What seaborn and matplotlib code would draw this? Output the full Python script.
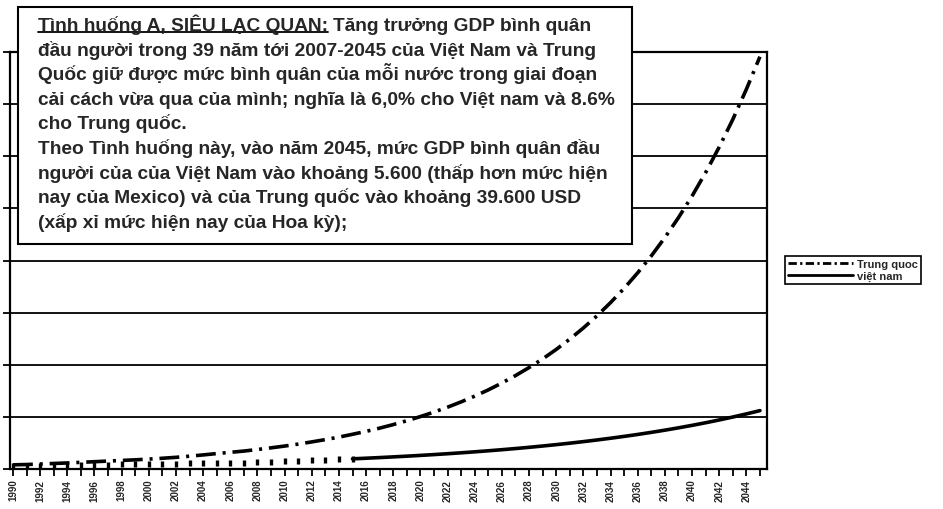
import numpy as np
import pandas as pd
import seaborn as sns
import matplotlib.pyplot as plt
from matplotlib.patches import Rectangle
from matplotlib.lines import Line2D

# years shown on the chart
years = list(range(1990, 2046))

# GDP per capita (USD)
trung_quoc = [400, 430, 480, 530, 580, 640, 700, 760, 820, 880,
              950, 1030, 1120, 1230, 1350, 1480, 1600, 1720, 1870, 2030,
              2200, 2390, 2600, 2820, 3060, 3330, 3610, 3920, 4260, 4630,
              5030, 5460, 5930, 6440, 6990, 7590, 8250, 8960, 9730, 10560,
              11470, 12460, 13530, 14690, 15960, 17330, 18820, 20440, 22200, 24110,
              26180, 28430, 30880, 33530, 36420, 39550]
viet_nam = [280, 290, 310, 330, 350, 380, 400, 420, 440, 450,
            470, 490, 510, 540, 560, 580, 600, 612, 649, 688,
            729, 773, 819, 868, 920, 975, 1034, 1096, 1162, 1231,
            1305, 1383, 1466, 1554, 1648, 1747, 1851, 1962, 2080, 2205,
            2337, 2477, 2626, 2784, 2951, 3128, 3315, 3514, 3725, 3949,
            4186, 4437, 4703, 4985, 5284, 5600]

tick_years = list(range(1990, 2045, 2))
y_grid = list(range(0, 40001, 5000))
legend_labels = ["Trung quoc", "việt nam"]

note_title = "Tình huống A, SIÊU LẠC QUAN:"
note_first_rest = "Tăng trưởng GDP bình quân"
note_lines = [
    "đầu người trong 39 năm tới 2007-2045 của Việt Nam và Trung",
    "Quốc giữ được mức bình quân của mỗi nước trong giai đoạn",
    "cải cách vừa qua của mình; nghĩa là 6,0% cho Việt nam và 8.6%",
    "cho Trung quốc.",
    "Theo Tình huống này, vào năm 2045, mức GDP bình quân đầu",
    "người của của Việt Nam vào khoảng 5.600 (thấp hơn mức hiện",
    "nay của Mexico) và của Trung quốc vào khoảng 39.600 USD",
    "(xấp xỉ mức hiện nay của Hoa kỳ);",
]

sns.set_theme(style="white")
plt.rcParams['font.family'] = ['Liberation Sans', 'DejaVu Sans']

df = pd.DataFrame({"year": years, "Trung quoc": trung_quoc, "việt nam": viet_nam})
hist = df[df["year"] <= 2015]
proj = df[df["year"] >= 2015]

W, H = 943, 510
fig = plt.figure(figsize=(W / 100, H / 100), dpi=100)
ax = fig.add_axes([10 / W, 40 / H, 757 / W, 417 / H])

# china: dash-dot line over the whole period
sns.lineplot(data=df, x="year", y="Trung quoc", ax=ax, color="black",
             linewidth=2.6, linestyle=(0, (5.5, 1.9, 0.85, 1.9)), zorder=3)
# viet nam: small tick marks for the early years, solid after
sns.scatterplot(data=hist, x="year", y="việt nam", ax=ax, color="black",
                marker="|", s=22, linewidth=2.4, zorder=4)
sns.lineplot(data=proj, x="year", y="việt nam", ax=ax, color="black", linewidth=2.6, zorder=3)

ax.set_xlim(1989.78, 2045.52)
ax.set_ylim(0, 40000)
ax.set_yticks(y_grid)
ax.set_yticklabels([])
ax.set_xticks(tick_years)
ax.set_xticks(years, minor=True)
ax.set_xticklabels([str(y) for y in tick_years], rotation=90, fontsize=7, fontweight="bold")
ax.set_xlabel("")
ax.set_ylabel("")
ax.yaxis.grid(True, color="black", linewidth=1.3)
ax.tick_params(axis="x", which="both", direction="out", length=5, width=1.3, color="black", bottom=True, pad=2)
ax.tick_params(axis="y", direction="out", length=5, width=1.3, color="black", left=True)
for s in ax.spines.values():
    s.set_color("black")
    s.set_linewidth(1.6)

# legend box on the right
handles = [Line2D([], [], color="black", lw=2, linestyle=(0, (3, 1.2, 0.8, 1.2))),
           Line2D([], [], color="black", lw=2)]
leg = fig.legend(handles, legend_labels, loc="upper left", bbox_to_anchor=(785 / W, 1 - 257 / H),
                 frameon=True, fancybox=False, edgecolor="black", framealpha=1,
                 prop={"weight": "bold", "size": 8}, handlelength=5.8, borderpad=0.3,
                 labelspacing=0.1, borderaxespad=0, handletextpad=0.4)
leg.get_frame().set_linewidth(1.2)

# text box
fig.add_artist(Rectangle((18 / W, 1 - 245 / H), 614 / W, 237 / H, transform=fig.transFigure,
                         facecolor="white", edgecolor="black", linewidth=1.5, zorder=5))

fs = 13.8
x0 = 38 / W
base = 31
step = 24.6
t = fig.text(x0, 1 - base / H, note_title, fontsize=fs, fontweight="bold", va="baseline", zorder=6)
fig.canvas.draw()
bb = t.get_window_extent()
uy = H - base - 2
fig.add_artist(Line2D([bb.x0 / W, bb.x1 / W], [uy / H, uy / H], transform=fig.transFigure,
                      color="black", linewidth=1.3, zorder=6))
fig.text((bb.x1 + 5) / W, 1 - base / H, note_first_rest, fontsize=fs, fontweight="bold",
         va="baseline", zorder=6)
for i, line in enumerate(note_lines, start=1):
    fig.text(x0, 1 - (base + step * i) / H, line, fontsize=fs, fontweight="bold",
             va="baseline", zorder=6)

fig.savefig("out.png", dpi=100)
